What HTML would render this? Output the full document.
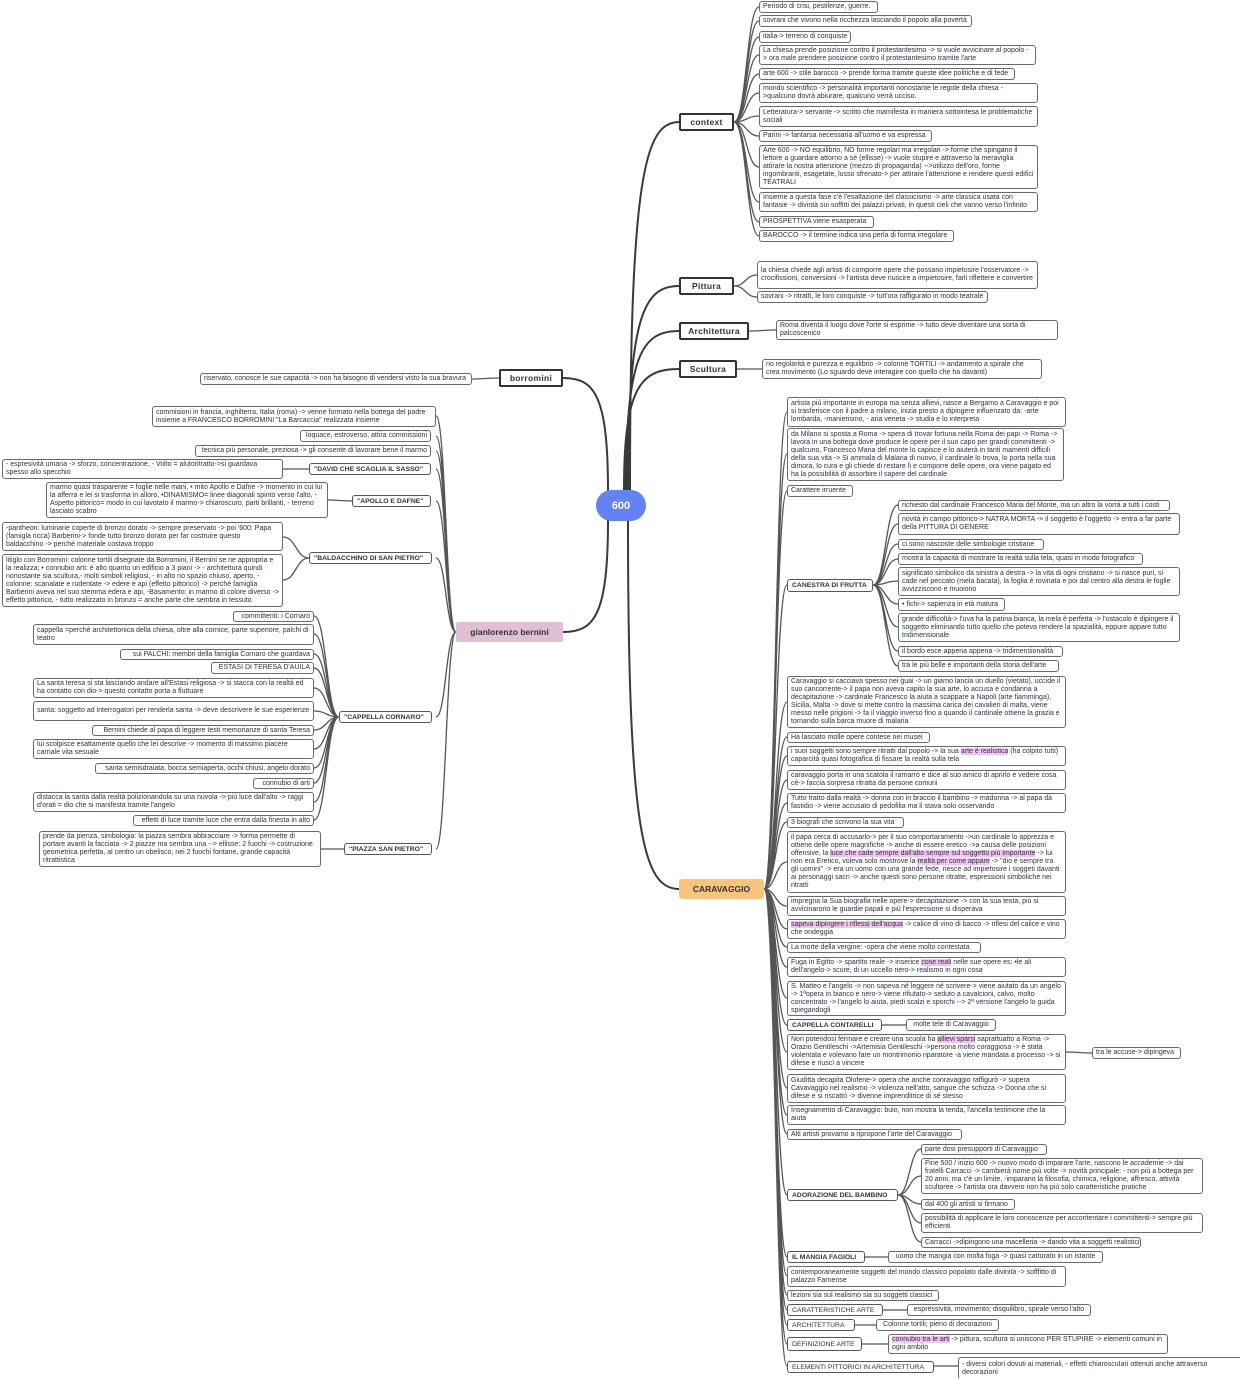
<!DOCTYPE html>
<html><head><meta charset="utf-8">
<style>
html,body{margin:0;padding:0;background:#fff;}
body{width:1240px;height:1376px;position:relative;overflow:hidden;font-family:"Liberation Sans",sans-serif;color:#333;}
.b{position:absolute;border:1.3px solid #6a6a6a;border-radius:3px;background:#fff;font-size:7px;line-height:8px;padding:0 3px;box-sizing:border-box;overflow:hidden;display:flex;align-items:center;color:#2f3340;}
.b span.t{display:block;}
.o{white-space:nowrap;}
.r{justify-content:flex-end;text-align:right;}
.n{position:absolute;border:2px solid #333;border-radius:2px;background:#fff;font-size:8.5px;font-weight:bold;box-sizing:border-box;display:flex;align-items:center;justify-content:center;letter-spacing:0.3px;}
.s{position:absolute;border:1.5px solid #555;border-radius:3px;background:#fff;font-size:6.8px;font-weight:bold;box-sizing:border-box;display:flex;align-items:center;padding:0 4px;white-space:nowrap;}
.sp{font-weight:normal;}
.h{background:#f2c4f0;}
svg{position:absolute;left:0;top:0;}
</style></head><body>
<svg id="lines" width="1240" height="1376"></svg>

<div style="position:absolute;left:596px;top:490px;width:50px;height:31px;border-radius:16px;background:#6383f5;color:#fff;font-weight:bold;font-size:11px;display:flex;align-items:center;justify-content:center;">600</div>

<div class="n" style="left:679px;top:113px;width:55px;height:18px;">context</div>
<div class="b o" style="left:759px;top:1px;width:119px;height:12px;">Periodo di crisi, pestilenze, guerre.</div>
<div class="b o" style="left:759px;top:15px;width:213px;height:12px;">sovrani che vivono nella ricchezza lasciando il popolo alla povertà</div>
<div class="b o" style="left:759px;top:31px;width:92px;height:12px;">italia-&gt; terreno di conquiste</div>
<div class="b" style="left:759px;top:45px;width:277px;height:20px;">La chiesa prende posizione contro il protestantesimo -&gt; si vuole avvicinare al popolo -&gt; ora male prendere posizione contro il protestantesimo tramite l'arte</div>
<div class="b o" style="left:759px;top:68px;width:256px;height:12px;">arte 600 -&gt; stile barocco -&gt; prende forma tramite queste idee politiche e di fede</div>
<div class="b" style="left:759px;top:83px;width:279px;height:20px;">mondo scientifico -&gt; personalità importanti nonostante le regole della chiesa -&gt;qualcuno dovrà abiurare, qualcuno verrà ucciso.</div>
<div class="b" style="left:759px;top:106px;width:279px;height:21px;">Letteratura-&gt; servante -&gt; scritto che mamifesta in maniera sottointesa le problematiche sociali</div>
<div class="b o" style="left:759px;top:130px;width:173px;height:12px;">Parini -&gt; fantarsa necessaria all'uomo e va espressa</div>
<div class="b" style="left:759px;top:145px;width:279px;height:44px;">Arte 600 -&gt; NO equilibrio, NO forme regolari ma irregolari -&gt; forme che spingano il lettore a guardare attorno a sè (ellisse) -&gt; vuole stupire e attraverso la meraviglia attirare la nostra attenzione (mezzo di propaganda) --&gt;utilizzo dell'oro, forme ingombranti, esagetate, lusso sfrenato-&gt; per attirare l'attenzione e rendere questi edifici TEATRALI</div>
<div class="b" style="left:759px;top:192px;width:279px;height:20px;">Insieme a questa fase c'è l'esaltazione del classicismo -&gt; arte classica usata con fantasie -&gt; divintà sui soffitti dei palazzi privati, in questi cieli che vanno verso l'infinito</div>
<div class="b o" style="left:759px;top:216px;width:115px;height:12px;">PROSPETTIVA viene esasperata</div>
<div class="b o" style="left:759px;top:230px;width:195px;height:12px;">BAROCCO -&gt; il termine indica una perla di forma irregolare</div>

<div class="n" style="left:679px;top:277px;width:55px;height:18px;">Pittura</div>
<div class="b" style="left:757px;top:261px;width:281px;height:28px;">la chiesa chiede agli artisti di comporre opere che possano impietosire l'osservatore -&gt; crocifissioni, conversioni -&gt; l'artista deve riuscire a impietosire, farli riflettere e convertire</div>
<div class="b o" style="left:757px;top:291px;width:231px;height:12px;">sovrani -&gt; ritratti, le loro conquiste -&gt; tutt'ora raffigurato in modo teatrale</div>

<div class="n" style="left:679px;top:322px;width:70px;height:18px;">Architettura</div>
<div class="b" style="left:776px;top:320px;width:282px;height:20px;">Roma diventa il luogo dove l'orte si esprime -&gt; tutto deve diventare una sorta di palcoscenico</div>

<div class="n" style="left:679px;top:360px;width:58px;height:18px;">Scultura</div>
<div class="b" style="left:762px;top:359px;width:280px;height:20px;">no regolarità e purezza e equilibrio -&gt; colonne TORTILI -&gt; andamento a spirale che crea movimento (Lo sguardo deve interagire con quello che ha davanti)</div>

<div class="n" style="left:499px;top:369px;width:64px;height:18px;">borromini</div>
<div class="b o" style="left:200px;top:373px;width:272px;height:12px;">riservato, conosce le sue capacità -&gt; non ha bisogno di vendersi visto la sua bravura</div>

<div style="position:absolute;left:456px;top:622px;width:107px;height:20px;background:#e0bfd4;border-radius:2px;font-size:8.5px;font-weight:bold;display:flex;align-items:center;justify-content:center;">gianlorenzo bernini</div>
<div class="b" style="left:152px;top:406px;width:284px;height:21px;">commisioni in francia, inghilterra, Italia (roma) -&gt; venne formato nella bottega del padre insieme a FRANCESCO BORROMINI "La Barcaccia" realizzata insieme</div>
<div class="b r o" style="left:300px;top:430px;width:131px;height:12px;">loquace, estroverso, attira commissioni</div>
<div class="b r o" style="left:195px;top:445px;width:236px;height:12px;">tecnica più personale, preziosa -&gt; gli consente di lavorare bene il marmo</div>
<div class="s" style="left:309px;top:463px;width:122px;height:12px;">"DAVID CHE SCAGLIA IL SASSO"</div>
<div class="b" style="left:2px;top:459px;width:281px;height:20px;">- espresività umana -&gt; sforzo, concentrazione, - Volto = alutoritratto-&gt;si guardava spesso allo specchio</div>
<div class="s" style="left:352px;top:495px;width:79px;height:12px;">"APOLLO E DAFNE"</div>
<div class="b" style="left:46px;top:482px;width:282px;height:36px;">marmo quasi trasparente = foglie nelle mani, • mito Apollo e Dafne -&gt; momento in cui lui la afferra e lei si trasforma in alloro, •DINAMISMO= linee diagonali spinto verso l'alto, - Aspetto pittorico= modo in cui lavotato il marmo-&gt; chiaroscuro, parti brillanti, - terreno lasciato scabro</div>
<div class="s" style="left:309px;top:552px;width:123px;height:12px;">"BALDACCHINO DI SAN PIETRO"</div>
<div class="b" style="left:2px;top:522px;width:281px;height:29px;">-pantheon: luminarie coperte di bronzo dorato -&gt; sempre preservato -&gt; poi '600: Papa (famigla ricca) Barberini-&gt; fonde tutto bronzo dorato per far costruire questo baldacchino -&gt; perché materiale costava troppo</div>
<div class="b" style="left:2px;top:554px;width:281px;height:53px;">litiglo con Borromini: colonne tortili disegnate da Borromini, il Bernini se ne appropria e la realizza; • connubio arti: é alto quanto un edificio a 3 piani -&gt; - architettura quindi nonostante sia scultura,- molti simboli religiosi, - in alto no spazio chiuso, aperto, - colonne: scanalate e rudentate -&gt; edere e api (effetto pittorico) -&gt; perché famiglia Barberini aveva nel suo stemma edera e api, -Basamento: in marmo di colore diverso -&gt; effetto pittorico, - tutto realizzato in bronzo = anche parte che sembra in tessuto</div>
<div class="s" style="left:339px;top:711px;width:93px;height:12px;">"CAPPELLA CORNARO"</div>
<div class="b r o" style="left:233px;top:611px;width:81px;height:11px;">committenti: i Cornaro</div>
<div class="b" style="left:33px;top:624px;width:281px;height:21px;">cappella =perchè architettonica della chiesa, oltre alla cornice, parte superiore, palchi di teatro</div>
<div class="b r o" style="left:120px;top:649px;width:194px;height:11px;">sui PALCHI: membri della famiglia Cornaro che guardava</div>
<div class="b r o" style="left:211px;top:662px;width:103px;height:12px;">ESTASI DI TERESA D'AUILA</div>
<div class="b" style="left:33px;top:678px;width:281px;height:20px;">La santa teresa si sta lasciando andare all'Estasi religiosa -&gt; si stacca con la realtà ed ha contatto con dio-&gt; questo contatto porta a fluttuare</div>
<div class="b" style="left:33px;top:701px;width:281px;height:20px;">santa: soggetto ad interrogatori per renderla santa -&gt; deve descrivere le sue esperienze</div>
<div class="b r o" style="left:92px;top:725px;width:222px;height:11px;">Bernini chiede al papa di leggere testi memorianze di santa Teresa</div>
<div class="b" style="left:33px;top:739px;width:281px;height:20px;">lui scolpisce esattamente quello che lei descrive -&gt; momento di massimo piacere carnale vita sesuale</div>
<div class="b r o" style="left:95px;top:763px;width:219px;height:11px;">santa semisdraiata, bocca semiaperta, occhi chiusi, angelo dorato</div>
<div class="b r o" style="left:253px;top:778px;width:61px;height:11px;">connubio di arti</div>
<div class="b" style="left:33px;top:792px;width:281px;height:20px;">distacca la santa dalla realtà polizionandola su una nuvola -&gt; più luce dall'alto -&gt; raggi d'orati = dio che si manifesta tramite l'angelo</div>
<div class="b r o" style="left:133px;top:815px;width:181px;height:11px;">effetti di luce tramite luce che entra dalla finesta in alto</div>
<div class="s" style="left:344px;top:843px;width:88px;height:12px;">"PIAZZA SAN PIETRO"</div>
<div class="b" style="left:39px;top:831px;width:282px;height:36px;">prende da pienza, simbologia: la piazza sembra abbracciare -&gt; forma permette di portare avanti la facciata -&gt; 2 piazze ma sembra una --&gt; ellisse: 2 fuochi -&gt; costruzione geometrica perfetta, al centro un obelisco, nei 2 fuochi fontane, grande capacità ritrattistica</div>

<div style="position:absolute;left:679px;top:879px;width:85px;height:20px;background:#f9c57d;border-radius:3px;font-size:8.5px;font-weight:bold;display:flex;align-items:center;justify-content:center;">CARAVAGGIO</div>
<div class="b" style="left:787px;top:397px;width:279px;height:30px;">artista più importante in europa ma senza allievi, nasce a Bergamo a Caravaggio e poi si trasferisce con il padre a milano, inizia presto a dipingere influenzato da: -arte lombarda, -manierismo, - aria veneta -&gt; studia e lo interpreta</div>
<div class="b" style="left:787px;top:428px;width:277px;height:53px;">da Milano si sposta a Roma -&gt; spera di trovar fortuna nella Roma dei papi -&gt; Roma -&gt; lavora in una bottega dove produce le opere per il suo capo per grandi committenti -&gt; qualcuno, Francesco Maria del monte lo capisce e lo aiuterà in tanti mamenti difficili della sua vita -&gt; Si ammala di Malaria di nuovo, il cardinale lo trova, lo porta nella sua dimora, lo cura e gli chiede di restare lì e comporre delle opere, ora viene pagato ed ha la possibilità di assorbire il sapere del cardinale</div>
<div class="b o" style="left:787px;top:485px;width:66px;height:12px;">Carattere irruente</div>
<div class="s" style="left:787px;top:579px;width:86px;height:13px;">CANESTRA DI FRUTTA</div>
<div class="b o" style="left:898px;top:500px;width:272px;height:11px;">richiesto dal cardinale Francesco Maria del Monte, ma un altro la vorrà a tutti i costi</div>
<div class="b" style="left:898px;top:513px;width:282px;height:22px;">novità in campo pittorico-&gt; NATRA MORTA -&gt; il soggetto è l'oggetto -&gt; entra a far parte della PITTURA DI GENERE</div>
<div class="b o" style="left:898px;top:539px;width:146px;height:11px;">ci sono nascoste delle simbologie cristiane</div>
<div class="b o" style="left:898px;top:553px;width:245px;height:12px;">mostra la capacità di mostrare la realtà sulla tela, quasi in modo fotografico</div>
<div class="b" style="left:898px;top:567px;width:282px;height:29px;">significato simbolico da sinistra a destra -&gt; la vita di ogni cristiano -&gt; si nasce puri, si cade nel peccato (mela bacata), la foglia è rovinata e poi dal centro alla destra le foglie avvizziscono e muoiono</div>
<div class="b o" style="left:898px;top:598px;width:107px;height:13px;">• fichi-&gt; sapienza in età matura</div>
<div class="b" style="left:898px;top:613px;width:282px;height:29px;">grande difficoltà-&gt; l'uva ha la patina bianca, la mela è perfetta -&gt; l'ostacolo è dipingere il soggetto eliminando tutto quello che poteva rendere la spazialità, eppure appare tutto tridimensionale</div>
<div class="b o" style="left:898px;top:646px;width:165px;height:11px;">il bordo esce appena appena -&gt; tridimensionalità</div>
<div class="b o" style="left:898px;top:660px;width:161px;height:12px;">tra le più belle e importanti della storia dell'arte</div>
<div class="b" style="left:787px;top:676px;width:279px;height:52px;">Caravaggio si cacciava spesso nei guai -&gt; un giarno lancia un duello (vietato), uccide il suo cancorrente-&gt; il papa non aveva capito la sua arte, lo accusa e condanna a decapitazione -&gt; cardinale Francesco la aiuta a scappare a Napoli (arte fiamminga), Sicilia, Malta -&gt; dove si mette contro la massima carica dei cavalieri di malta, viene messo nelle prigioni -&gt; fa il viaggio inverso fino a quando il cardinale ottiene la grazia e tornando sulla barca muore di malaria</div>
<div class="b o" style="left:787px;top:732px;width:143px;height:11px;">Ha lasciato molle opere contese nei musei</div>
<div class="b" style="left:787px;top:746px;width:279px;height:20px;"><span class="t">i suoi soggetti sono sempre ritratti dal popolo -&gt; la sua <span class="h">arte é realistica</span> (ha colpito tutti) caparcità quasi fotografica di fissare la realtà sulla tela</span></div>
<div class="b" style="left:787px;top:770px;width:279px;height:20px;">caravaggio porta in una scatola il ramarro e dice al suo amico di aprirlo e vedere cosa cè-&gt; faccia sorpresa ritratta da persone comuni</div>
<div class="b" style="left:787px;top:793px;width:279px;height:20px;">Tutto tratto dalla realtà -&gt; donna con in braccio il bambino -&gt; madonna -&gt; al papa dà fastidio -&gt; viene accusato di pedofilia ma lì stava solo osservando</div>
<div class="b o" style="left:787px;top:817px;width:117px;height:11px;">3 biografi che scrivono la sua vita</div>
<div class="b" style="left:787px;top:831px;width:279px;height:62px;"><span class="t">il papa cerca di accusarlo-&gt; per il suo comportaramento -&gt;un cardinale lo apprezza e ottiene delle opere magnifiche -&gt; anche di essere eretico -&gt;a causa delle posizioni offensive, la <span class="h">luce che cade sempre dall'alto sempre sul soggetto più importante</span> -&gt; lui non era Eretico, voleva solo mostrove la <span class="h">realtà per come appare</span> -&gt; "dio é sempre tra gli uomini" -&gt; era un uomo con una grande fede, riesce ad impietosire i soggeti davanti ai personaggi sacri -&gt; anche questi sono persone ritratte, espressioni simboliche nei ritratti</span></div>
<div class="b" style="left:787px;top:896px;width:279px;height:20px;">impregna la Sua biografia nelle opere-&gt; decapitazione -&gt; con la sua testa, più si avvicinarono le guardie papali e più l'espressione si disperava</div>
<div class="b" style="left:787px;top:919px;width:279px;height:20px;"><span class="t"><span class="h">sapeva dipingere i riflessi dell'acqua</span> -&gt; calice di vino di bacco -&gt; riflesi del calice e vino che ondeggia</span></div>
<div class="b o" style="left:787px;top:942px;width:194px;height:11px;">La morte della vergine: -opera che viene molto contestata</div>
<div class="b" style="left:787px;top:957px;width:279px;height:20px;"><span class="t">Fuga in Egitto -&gt; spartito reale -&gt; inserice <span class="h">cose reali</span> nelle sue opere es: •le ali dell'angelo-&gt; scure, di un uccello nero-&gt; realismo in ogni cosa</span></div>
<div class="b" style="left:787px;top:981px;width:279px;height:35px;">S. Matteo e l'angelo -&gt; non sapeva né leggere né scrivere-&gt; viene aiutato da un angelo -&gt; 1ªopera in bianco e nero-&gt; viene rifiutato-&gt; seduto a cavalcioni, calvo, molto concentrato -&gt; l'angelo lo aiuta, piedi scalzi e sporchi --&gt; 2ª versione l'angelo lo guida spiegandogli</div>
<div class="s" style="left:787px;top:1019px;width:95px;height:12px;">CAPPELLA CONTARELLI</div>
<div class="b o" style="left:906px;top:1019px;width:90px;height:12px;justify-content:center;">molte tele di Caravaggio</div>
<div class="b" style="left:787px;top:1034px;width:279px;height:36px;"><span class="t">Non potendosi fermare e creare una scuola ha <span class="h">allievi sparsi</span> saprattuatto a Roma -&gt; Orazio Gentileschi -&gt;Artemisia Gentileschi -&gt;persona molto coraggiosa -&gt; è stata violentata e volevano fare un montrimonio riparatore -a viene mandata a processo -&gt; si difese e riuscì a vincere</span></div>
<div class="b o" style="left:1092px;top:1047px;width:89px;height:12px;">tra le accuse-&gt; dipingeva</div>
<div class="b" style="left:787px;top:1074px;width:279px;height:29px;">Giuditta decapita Olofene-&gt; opera che anche conravaggio raffigurò -&gt; supera Cavavaggio nel realismo -&gt; violenza nell'atto, sangue che schizza -&gt; Donna che si difese e si riscattó -&gt; divenne imprenditrice di sé stesso</div>
<div class="b" style="left:787px;top:1105px;width:279px;height:20px;">Insegnamento di Caravaggio: buio, non mostra la tenda, l'ancella testimone che la aiuta</div>
<div class="b o" style="left:787px;top:1129px;width:175px;height:11px;">Alti artisti provamo a ripropone l'arte del Caravaggio</div>
<div class="s" style="left:787px;top:1189px;width:111px;height:12px;">ADORAZIONE DEL BAMBINO</div>
<div class="b o" style="left:921px;top:1144px;width:126px;height:11px;">parte dosi presupporti di Caravaggio</div>
<div class="b" style="left:921px;top:1158px;width:282px;height:36px;">Fine 500 / inizio 600 -&gt; nuovo modo di imparare l'arte, nascono le accademie -&gt; dai fratelli Carracci -&gt; cambierà nome più volte -&gt; novità principale: - non più a bottega per 20 anni, ma c'è un limite, -imparano la filosofia, chimica, religione, affresco, attività scultoree -&gt; l'artista ora davvero non ha più solo caratteristiche pratiche</div>
<div class="b o" style="left:921px;top:1199px;width:94px;height:11px;">dal 400 gli artisti si firmano</div>
<div class="b" style="left:921px;top:1213px;width:282px;height:20px;">possibilità di applicare le loro conoscenze per accontentare i committenti-&gt; sempre più efficienti</div>
<div class="b o" style="left:921px;top:1237px;width:220px;height:11px;">Carracci -&gt;dipingono una macelleria -&gt; dando vita a soggetti realistici</div>
<div class="s" style="left:787px;top:1251px;width:78px;height:12px;">IL MANGIA FAGIOLI</div>
<div class="b o" style="left:888px;top:1251px;width:215px;height:12px;justify-content:center;">uomo che mangia con molta foga -&gt; quasi catturato in un istante</div>
<div class="b" style="left:787px;top:1266px;width:279px;height:21px;">contemporaneamente soggetti del mondo classico popolato dalle divinità -&gt; sofffitto di palazzo Farnense</div>
<div class="b o" style="left:787px;top:1290px;width:152px;height:11px;">lezioni sia sul realismo sia su soggetti classici</div>
<div class="s sp" style="left:787px;top:1304px;width:96px;height:12px;">CARATTERISTICHE ARTE</div>
<div class="b o" style="left:907px;top:1304px;width:184px;height:12px;justify-content:center;">espressività, movimento; disquilibro, spirale verso l'alto</div>
<div class="s sp" style="left:787px;top:1319px;width:68px;height:12px;">ARCHITETTURA</div>
<div class="b o" style="left:876px;top:1319px;width:123px;height:12px;justify-content:center;">Colonne tortili; pieno di decorazioni</div>
<div class="s sp" style="left:787px;top:1337px;width:75px;height:14px;">DEFINIZIONE ARTE</div>
<div class="b" style="left:888px;top:1334px;width:280px;height:20px;"><span class="t"><span class="h">connubio tra le arti</span> -&gt; pittura, scultura si uniscono PER STUPIRE -&gt; elementi comuni in ogni ambito</span></div>
<div class="s sp" style="left:787px;top:1361px;width:147px;height:12px;">ELEMENTI PITTORICI IN ARCHITETTURA</div>
<div class="b" style="left:958px;top:1357px;width:290px;height:22px;border-right:none;border-bottom:none;">- diversi colori dovuti ai materiali, - effetti chiaroscuIari ottenuti anche attraverso decorazioni</div>

<script>
(function(){
var s=document.getElementById('lines'),d='',t='';
function c(x1,y1,x2,y2){var m=(x1+x2)/2;return 'M'+x1+' '+y1+' C'+m+' '+y1+','+m+' '+y2+','+x2+' '+y2+' ';}
function v(x1,y1,x2,y2){return 'M'+x1+' '+y1+' C'+x1+' '+(y1+(y2-y1)*0.85)+','+(x1+(x2-x1)*0.3)+' '+y2+','+x2+' '+y2+' ';}
d+=v(630,490,679,122)+v(628,490,679,286)+v(626,490,679,331)+v(624,490,679,369)+v(628,521,679,889);
d+=v(608,491,563,378)+v(608,520,563,632);
function grp(px,py,cx,ys){ys.forEach(function(y){t+=c(px,py,cx,y);});}
grp(734,122,759,[7,21,37,55,74,93,116,136,167,202,222,236]);
grp(734,286,757,[275,297]);
t+=c(749,331,776,330)+c(737,369,762,369)+c(499,378,472,379);
grp(456,632,436,[416,436,451,469,501,558,717,849]);
grp(309,469,283,[469]);grp(352,501,328,[500]);
grp(309,558,283,[537,580]);
grp(339,717,314,[616,634,654,668,688,711,730,749,768,783,802,820]);
grp(344,849,321,[849]);
grp(764,889,787,[412,454,491,585,702,737,756,780,803,822,862,906,929,947,967,998,1025,1052,1088,1115,1134,1195,1257,1276,1295,1310,1325,1344,1366]);
grp(873,585,898,[505,524,544,559,581,604,627,651,666]);
t+=c(882,1025,906,1025)+c(1066,1052,1092,1053);
grp(898,1195,921,[1149,1176,1204,1223,1242]);
t+=c(865,1257,888,1257)+c(883,1310,907,1310)+c(855,1325,876,1325)+c(862,1344,888,1344)+c(934,1366,958,1366);
s.innerHTML='<path d="'+d+'" fill="none" stroke="#3a3a3a" stroke-width="2"/><path d="'+t+'" fill="none" stroke="#555" stroke-width="1.3"/>';
})();
</script>
</body></html>
